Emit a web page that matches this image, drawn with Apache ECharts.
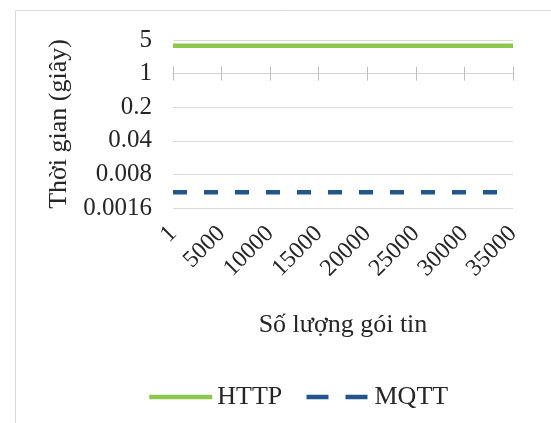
<!DOCTYPE html>
<html lang="vi">
<head>
  <meta charset="UTF-8">
  <title>HTTP vs MQTT</title>
  <script src="https://cdn.jsdelivr.net/npm/echarts@6/dist/echarts.min.js"></script>
  <style>
    html, body { margin: 0; padding: 0; background: #fff; }
    #main { width: 551px; height: 423px; }
  </style>
</head>
<body>
  <div id="main"></div>
  <script>
    // dữ liệu
    var categories = ['1', '5000', '10000', '15000', '20000', '25000', '30000', '35000'];
    var httpTimes = [3.8, 3.8, 3.8, 3.8, 3.8, 3.8, 3.8, 3.8];
    var mqttTimes = [0.0034, 0.0034, 0.0034, 0.0034, 0.0034, 0.0034, 0.0034, 0.0034];

    var serif = '"Liberation Serif", "DejaVu Serif", serif';
    var textColor = '#262626';
    var myChart = echarts.init(document.getElementById('main'));

    // trục phụ nằm tại y = 1 (khoảng 1 bậc log dưới đỉnh)
    function crossAxis(inside) {
      return {
        type: 'category',
        data: categories,
        boundaryGap: false,
        position: 'top',
        offset: -33.6,
        axisLine: { lineStyle: { color: '#d0d0d0' } },
        axisTick: { inside: inside, length: 7, lineStyle: { color: '#bdbdbd' } },
        axisLabel: { show: false },
        splitLine: { show: false }
      };
    }

    var option = {
      backgroundColor: '#fff',
      animation: false,
      graphic: [{
        type: 'rect',
        shape: { x: 15.5, y: 10.5, width: 560, height: 430 },
        style: { fill: 'none', stroke: '#d9d9d9', lineWidth: 1 }
      }],
      grid: { left: 173, right: 38, top: 40, bottom: 215 },
      legend: {
        top: 379,
        left: 142,
        itemWidth: 63,
        itemHeight: 14,
        itemGap: 22,
        itemStyle: { opacity: 0 },
        textStyle: { fontFamily: serif, fontSize: 26, color: textColor },
        data: [
          { name: 'HTTP', lineStyle: { width: 4.5 } },
          { name: 'MQTT', lineStyle: { width: 4.5, type: [22, 17] } }
        ]
      },
      xAxis: [{
        type: 'category',
        data: categories,
        boundaryGap: false,
        name: 'Số lượng gói tin',
        nameLocation: 'middle',
        nameGap: 104,
        nameTextStyle: { fontFamily: serif, fontSize: 26, color: textColor },
        axisLine: { show: false },
        axisTick: { show: false },
        axisLabel: { rotate: 45, margin: 22, fontFamily: serif, fontSize: 24, color: textColor }
      }, crossAxis(true), crossAxis(false)],
      yAxis: {
        type: 'log',
        logBase: 5,
        min: 0.0016,
        max: 5,
        name: 'Thời gian (giây)',
        nameLocation: 'middle',
        nameGap: 99,
        nameTextStyle: { fontFamily: serif, fontSize: 26, color: textColor },
        axisLine: { show: false },
        axisTick: { show: false },
        splitLine: { lineStyle: { color: '#d9d9d9' } },
        axisLabel: {
          fontFamily: serif, fontSize: 25, color: textColor, margin: 21,
          formatter: function (v) { return String(parseFloat(v.toPrecision(2))); }
        }
      },
      series: [{
        name: 'HTTP',
        type: 'line',
        data: httpTimes,
        symbol: 'none',
        itemStyle: { color: '#8dc84c' },
        lineStyle: { color: '#8dc84c', width: 4.5 }
      }, {
        name: 'MQTT',
        type: 'line',
        data: mqttTimes,
        symbol: 'none',
        itemStyle: { color: '#22558a' },
        lineStyle: { color: '#22558a', width: 4.5, type: [14, 17] }
      }]
    };

    myChart.setOption(option);
  </script>
</body>
</html>
